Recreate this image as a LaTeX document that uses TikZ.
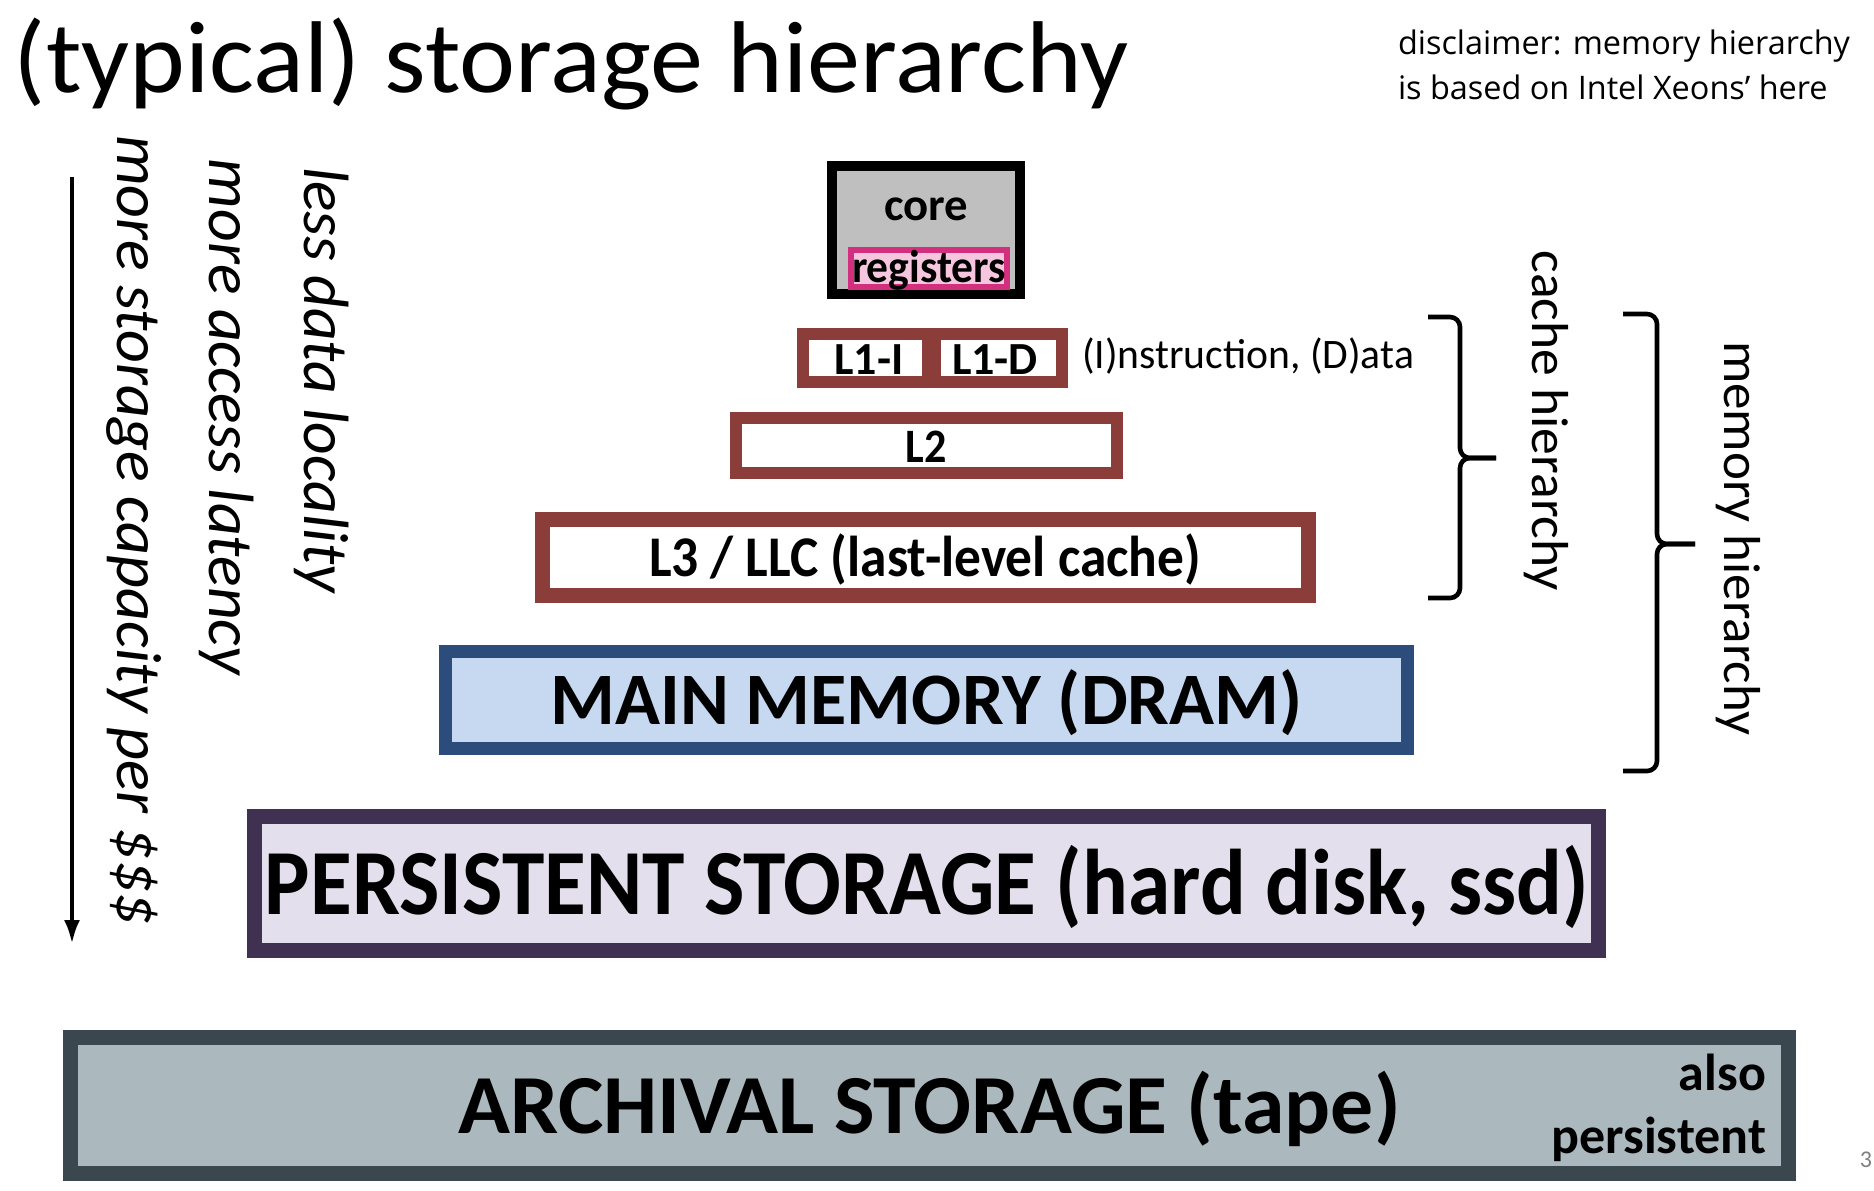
\documentclass[tikz,border=0pt]{standalone}
\usepackage{fontspec}
\usepackage{graphicx}
\setmainfont{Carlito}
\newfontfamily\discfont{Open Sans}
\usetikzlibrary{arrows.meta}
\definecolor{cachebr}{HTML}{8B3D3A}
\definecolor{corefill}{HTML}{BFBFBF}
\definecolor{regfill}{HTML}{F6C6DF}
\definecolor{regbr}{HTML}{D2307F}
\definecolor{memfill}{HTML}{C6D9F1}
\definecolor{membr}{HTML}{2C4C7C}
\definecolor{perfill}{HTML}{E4DFEC}
\definecolor{perbr}{HTML}{403152}
\definecolor{arcfill}{HTML}{ABB9BF}
\definecolor{arcbr}{HTML}{3B474E}
\newcommand{\fitx}[3]{\resizebox{#1}{\height}{\fontsize{#2}{#2}\selectfont #3}}
\begin{document}
\begin{tikzpicture}[x=0.5pt,y=-0.5pt,
  box/.style={draw, rectangle, inner sep=0pt, outer sep=0pt},
  cachebox/.style={box, draw=cachebr, fill=white, line width=6pt},
  lbl/.style={inner sep=0pt, outer sep=0pt},
  bracestyle/.style={draw=black, line width=2.3pt, rounded corners=5pt},
  vtext/.style={inner sep=0pt, rotate=-90}]
\useasboundingbox (0,0) rectangle (1874,1190);

% title and disclaimer
\node[lbl, anchor=west] (title) at (14,64) {\fitx{557pt}{51pt}{(typical) storage hierarchy}};
\node[lbl, anchor=west] (disc) at (1398,68) {\resizebox{226pt}{!}{\discfont\fontsize{16pt}{22.5pt}\selectfont
  \begin{tabular}{@{}l@{}}disclaimer: memory hierarchy\\ is based on Intel Xeons’ here\end{tabular}}};

% core
\node[box, draw=black, fill=corefill, line width=5pt, minimum width=94pt, minimum height=64pt] (core) at (926,230) {};
\node[lbl] (coretxt) at (926,209) {\fitx{42pt}{23pt}{\bfseries core}};
\node[box, draw=regbr, fill=regfill, line width=3pt, minimum width=78pt, minimum height=18.5pt] (reg) at (929,268) {};
\node[lbl] (regtxt) at (929,270) {\fitx{77pt}{23pt}{\bfseries registers}};

% L1
\node[cachebox, minimum width=62.5pt, minimum height=24pt] (l1i) at (865.5,358) {};
\node[cachebox, minimum width=63.5pt, minimum height=24pt] (l1d) at (998.5,358) {};
\node[lbl] (l1itxt) at (869,360) {\fitx{34.5pt}{23pt}{\bfseries L1-I}};
\node[lbl] (l1dtxt) at (995,360) {\fitx{43pt}{23pt}{\bfseries L1-D}};
\node[lbl, anchor=west] (instr) at (1082,356) {\fitx{166pt}{21pt}{(I)nstruction, (D)ata}};

% L2
\node[cachebox, minimum width=190.5pt, minimum height=27.5pt] (l2) at (926,445.5) {};
\node[lbl] (l2txt) at (926,447) {\fitx{20.5pt}{24pt}{\bfseries L2}};

% L3
\node[cachebox, line width=7.5pt, minimum width=383pt, minimum height=38pt] (l3) at (925.5,557.5) {};
\node[lbl] (l3txt) at (925,559) {\fitx{276pt}{28.8pt}{\bfseries L3 / LLC (last-level cache)}};

% main memory
\node[box, draw=membr, fill=memfill, line width=6.5pt, minimum width=481pt, minimum height=48.5pt] (mem) at (926.5,700) {};
\node[lbl] (memtxt) at (926.5,703) {\fitx{376pt}{37pt}{\bfseries MAIN MEMORY (DRAM)}};

% persistent
\node[box, draw=perbr, fill=perfill, line width=7.5pt, minimum width=672pt, minimum height=67pt] (per) at (926.5,883.5) {};
\node[lbl] (pertxt) at (927,887) {\fitx{662pt}{46.6pt}{\bfseries PERSISTENT STORAGE (hard disk, ssd)}};

% archival
\node[box, draw=arcbr, fill=arcfill, line width=7.5pt, minimum width=859pt, minimum height=68pt] (arc) at (929.5,1105.5) {};
\node[lbl] (arctxt) at (929.5,1109) {\fitx{471pt}{42pt}{\bfseries ARCHIVAL STORAGE (tape)}};
\node[lbl, anchor=east, align=right, font=\fontsize{26pt}{31.5pt}\selectfont\bfseries] (also) at (1766,1107.5) {also\\persistent};

% page number at the edge
\node[lbl, anchor=east, text=gray, font=\fontsize{12pt}{12pt}\selectfont] (pgno) at (1872,1160) {3};

% left arrow and rotated texts
\coordinate (aTop) at (72,177);
\coordinate (aBot) at (72,944);
\draw[line width=2.2pt, -{Latex[length=12pt,width=8pt]}] (aTop) -- (aBot);
\node[vtext] (capacity) at (134,530) {\fitx{395pt}{32pt}{\itshape more storage capacity per \$\$\$}};
\node[vtext] (latency) at (227,417) {\fitx{258pt}{32pt}{\itshape more access latency}};
\node[vtext] (locality) at (322,380) {\fitx{213pt}{32pt}{\itshape less data locality}};

% cache hierarchy brace
\coordinate (cbTop) at (1428,317);
\coordinate (cbBot) at (1428,598);
\coordinate (cbMid) at (1460,458);
\coordinate (cbTip) at (1496,458);
\draw[bracestyle] (cbTop) -| (cbMid) -- (cbTip);
\draw[bracestyle] (cbBot) -| (cbMid) -- (cbTip);
\node[vtext] (cachetxt) at (1546,421) {\fitx{170pt}{26pt}{cache hierarchy}};

% memory hierarchy brace
\coordinate (mbTop) at (1623,314);
\coordinate (mbBot) at (1623,771);
\coordinate (mbMid) at (1657,544);
\coordinate (mbTip) at (1695,544);
\draw[bracestyle] (mbTop) -| (mbMid) -- (mbTip);
\draw[bracestyle] (mbBot) -| (mbMid) -- (mbTip);
\node[vtext] (memhtxt) at (1738,538) {\fitx{197pt}{26pt}{memory hierarchy}};
\end{tikzpicture}
\end{document}
